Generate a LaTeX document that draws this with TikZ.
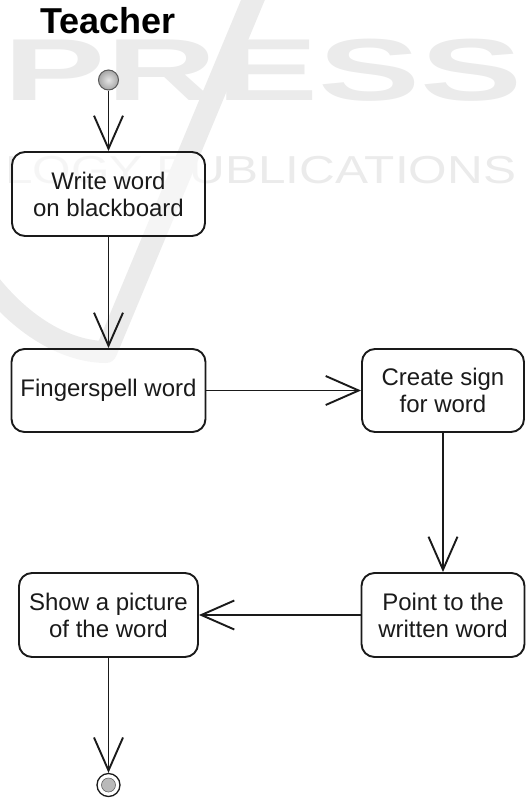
\documentclass[tikz,border=0pt]{standalone}
\usepackage{fontspec}
\setmainfont{Liberation Sans}
\usetikzlibrary{arrows.meta,shadings}
\definecolor{ink}{HTML}{1A1A1A}
\definecolor{wm}{HTML}{EBEBEB}
\tikzset{
  act/.style={draw=ink, line width=1.9pt, rounded corners=13pt, fill=white, fill opacity=0.55, text opacity=1, align=center, font=\fontsize{24}{27}\selectfont, text=ink, inner sep=0pt},
  flow/.style={draw=ink, line width=1.9pt, -{Straight Barb[length=33pt,width=29pt,line width=1.9pt]}},
  wmark/.style={text=wm, inner sep=0pt},
}
\begin{document}
\begin{tikzpicture}[x=1pt,y=-1pt]
\useasboundingbox (0,0) rectangle (527,798);
% faint watermark
\draw[wm, line width=22pt, line cap=butt, line join=round] (-12,282) .. controls (30,335) and (75,352) .. (106,352) -- (255,-5);
\node[wmark, anchor=base, xscale=1.74, font=\bfseries\fontsize{88}{88}\selectfont] (wm1) at (263.5,100) {PRESS};
\node[wmark, anchor=base west, xscale=1.27, font=\fontsize{39}{39}\selectfont] (wm2) at (5,183) {LOGY PUBLICATIONS};
% title
\node[anchor=base west, inner sep=0pt, font=\bfseries\fontsize{36}{36}\selectfont] (title) at (40,33) {Teacher};
% activities
\node[act, minimum width=193pt, minimum height=84pt] (w) at (108.5,194) {Write word\\on blackboard};
\node[act, minimum width=194pt, minimum height=83pt] (f) at (108.5,390.5) {Fingerspell word};
\node[act, minimum width=162pt, minimum height=83pt] (c) at (443,390.5) {Create sign\\for word};
\node[act, minimum width=163pt, minimum height=84pt] (p) at (443,615) {Point to the\\written word};
\node[act, minimum width=179pt, minimum height=84pt] (s) at (108.5,615) {Show a picture\\of the word};
% initial and final
\node[circle, minimum size=20pt, inner sep=0pt, draw=black!65, line width=1pt, inner color=gray!20, outer color=gray!70] (st) at (108.5,80) {};
\node[circle, minimum size=23pt, inner sep=0pt, draw=ink, line width=1.3pt] (en) at (108.5,785) {};
\node[circle, minimum size=14pt, inner sep=0pt, draw=black!60, line width=0.6pt, fill=gray!55] (en2) at (en) {};
% flows
\draw[flow] (st) -- (w);
\draw[flow] (w) -- (f);
\draw[flow] (f) -- (c);
\draw[flow] (c) -- (p);
\draw[flow] (p) -- (s);
\draw[flow] (s) -- (en);
\end{tikzpicture}
\end{document}
